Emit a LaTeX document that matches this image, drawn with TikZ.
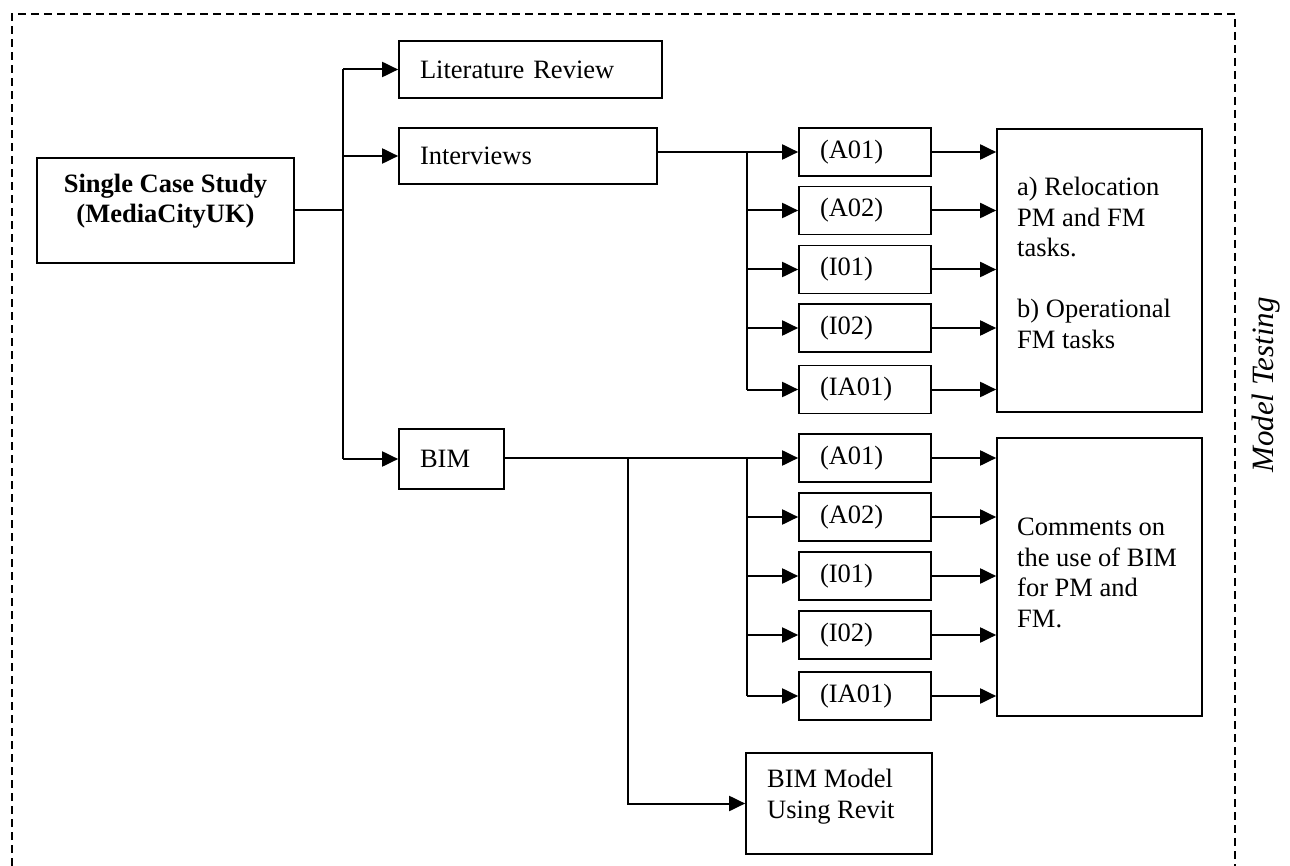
\documentclass[tikz,border=0pt]{standalone}
\usepackage{fontspec}
\setmainfont{Liberation Serif}
\usetikzlibrary{arrows.meta}
\begin{document}
\begin{tikzpicture}[x=1pt,y=-1pt,
  every node/.style={font=\fontsize{26.5}{30.5}\selectfont},
  box/.style={draw, line width=1.7pt, inner ysep=0pt, align=left},
  smallbox/.style={box, minimum width=132pt, minimum height=48pt, inner xsep=21pt, text width=90pt},
  bigbox/.style={draw, line width=1.7pt, minimum width=205pt, inner sep=0pt},
  txt/.style={inner sep=0pt, align=left, anchor=west},
  line/.style={line width=2pt},
  arr/.style={line width=2pt, -{Triangle[length=16pt,width=15pt]}},
  frame/.style={line width=1.5pt, dash pattern=on 8pt off 5pt}]
\useasboundingbox (0,0) rectangle (1290,866);

% outer dashed frame, open at the bottom
\draw[frame] (12,866) -- (12,14) -- (1235,14) -- (1235,866);
\node[rotate=90, font=\fontsize{31}{35}\selectfont\itshape] (mt) at (1266,385) {Model Testing};

% case study and its three strands
\node[draw, line width=1.7pt, minimum width=257pt, minimum height=105pt, inner sep=0pt] (scs) at (165.5,210.5) {};
\node[inner sep=0pt, align=center, font=\fontsize{26.5}{30.5}\selectfont\bfseries] (scst) at (165.5,201) {Single Case Study\\(MediaCityUK)};

\node[box, minimum width=263pt, minimum height=57pt, inner xsep=21pt, text width=221pt] (lit) at (530.5,69.5) {Literature Review};
\node[box, minimum width=258pt, minimum height=56pt, inner xsep=21pt, text width=216pt] (int) at (528,156) {Interviews};
\node[box, minimum width=105pt, minimum height=60pt, inner xsep=21pt, text width=63pt] (bim) at (451.5,459) {BIM};

% interviewees
\node[smallbox] (ia1) at (865,152) {(A01)};
\node[smallbox] (ia2) at (865,210.5) {(A02)};
\node[smallbox] (ia3) at (865,269.5) {(I01)};
\node[smallbox] (ia4) at (865,328) {(I02)};
\node[smallbox] (ia5) at (865,389.5) {(IA01)};

\node[bigbox, minimum height=283pt] (ires) at (1099.5,270.5) {};
\node[txt] (irest) at (1017,263) {a) Relocation\\PM and FM\\tasks.\\[30.5pt]b) Operational\\FM tasks};

% BIM respondents
\node[smallbox] (ba1) at (865,458) {(A01)};
\node[smallbox] (ba2) at (865,517) {(A02)};
\node[smallbox] (ba3) at (865,576) {(I01)};
\node[smallbox] (ba4) at (865,635) {(I02)};
\node[smallbox] (ba5) at (865,696) {(IA01)};

\node[bigbox, minimum height=278pt] (bres) at (1099.5,577) {};
\node[txt] (brest) at (1017,573) {Comments on\\the use of BIM\\for PM and\\FM.};

\node[draw, line width=1.7pt, minimum width=186pt, minimum height=101pt, inner sep=0pt] (rev) at (839,803.5) {};
\node[txt] (revt) at (767,796.5) {BIM Model\\Using Revit};

% branching lines
\coordinate (tr) at (343,0);
\coordinate (st) at (747,0);
\coordinate (br) at (628,0);

\draw[line] (scs.east) -- (scs.east -| tr);
\draw[line] (tr |- lit.west) -- (tr |- bim.west);
\draw[arr] (tr |- lit.west) -- (lit.west);
\draw[arr] (tr |- int.west) -- (int.west);
\draw[arr] (tr |- bim.west) -- (bim.west);

% interviews branch
\draw[arr] (ia1.west -| int.east) -- (ia1.west);
\draw[line] (st |- ia1.west) -- (st |- ia5.west);
\foreach \n in {ia2,ia3,ia4,ia5} \draw[arr] (st |- \n.west) -- (\n.west);
\foreach \n in {ia1,ia2,ia3,ia4,ia5} \draw[arr] (\n.east) -- (\n.east -| ires.west);

% BIM branch
\draw[arr] (ba1.west -| bim.east) -- (ba1.west);
\draw[line] (st |- ba1.west) -- (st |- ba5.west);
\foreach \n in {ba2,ba3,ba4,ba5} \draw[arr] (st |- \n.west) -- (\n.west);
\foreach \n in {ba1,ba2,ba3,ba4,ba5} \draw[arr] (\n.east) -- (\n.east -| bres.west);
\draw[arr] (br |- bim.east) |- (rev.west);
\end{tikzpicture}
\end{document}
